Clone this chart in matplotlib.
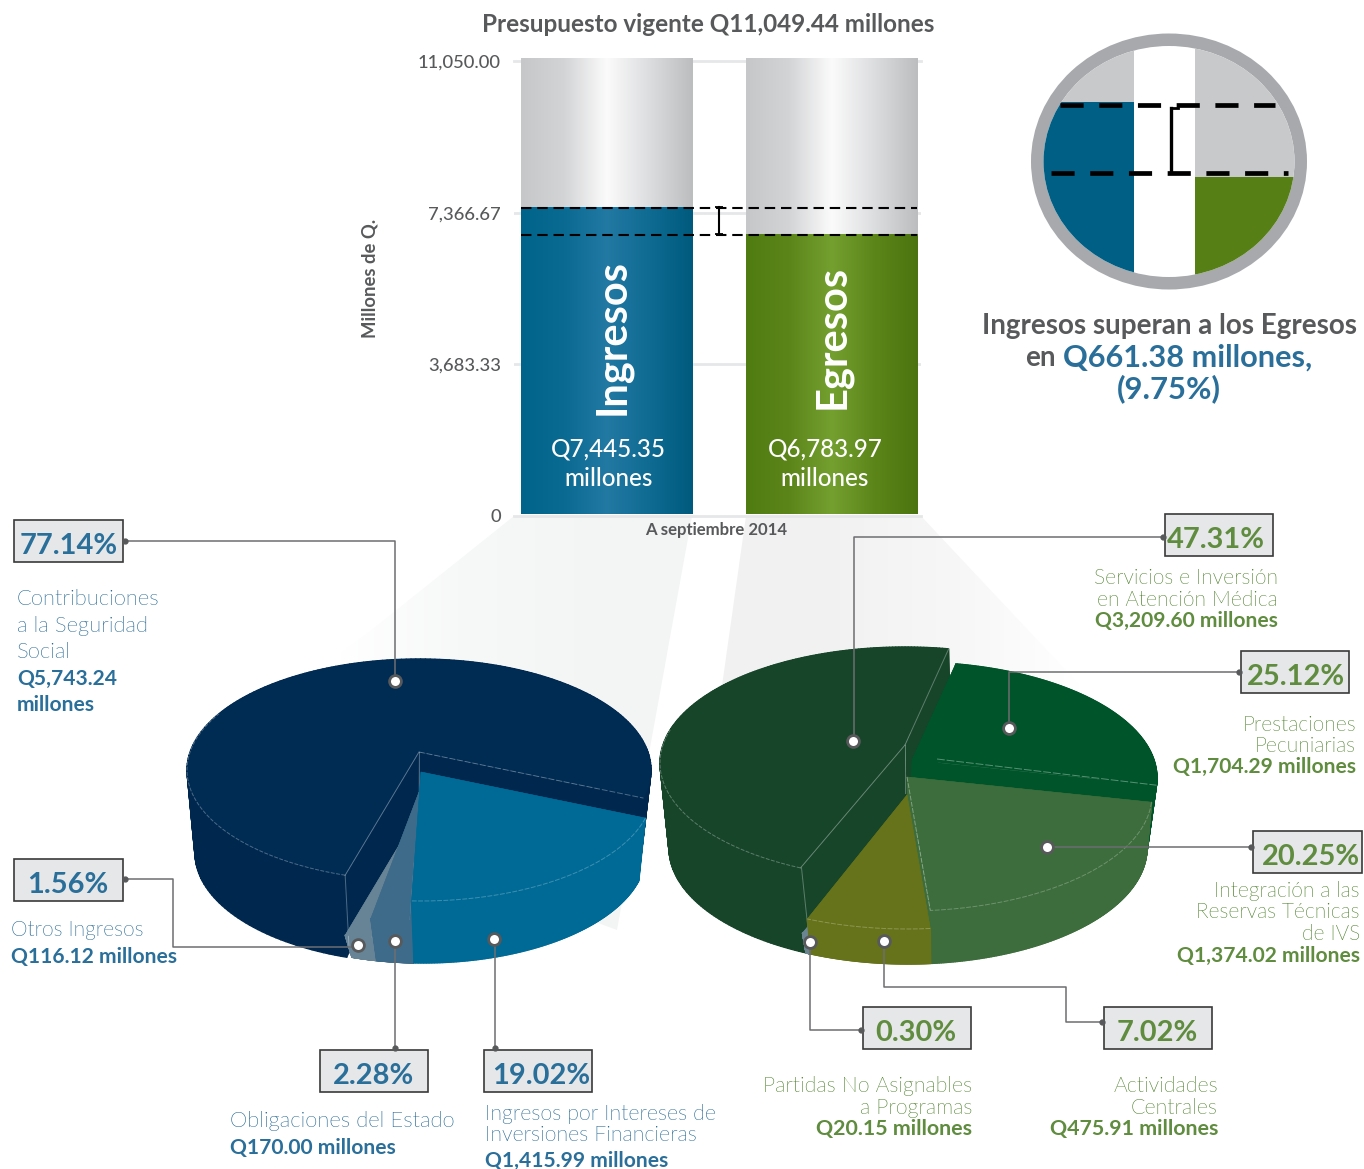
import numpy as np
import matplotlib
matplotlib.use('Agg')
import matplotlib.pyplot as plt
from matplotlib import font_manager as fm
from matplotlib.collections import PolyCollection
from matplotlib.colors import LinearSegmentedColormap
from matplotlib.patches import Polygon, Rectangle, Ellipse

plt.rcParams['font.family'] = ['Lato', 'DejaVu Sans']

# datos
budget = 11049.44
bar_names = ['Ingresos', 'Egresos']
bar_values = [7445.35, 6783.97]
y_ticks = [0, 3683.33, 7366.67, 11050.00]

ing_names = ['Ingresos por Intereses de\nInversiones Financieras', 'Obligaciones del Estado',
             'Otros Ingresos', 'Contribuciones\na la Seguridad\nSocial']
ing_pct = [19.02, 2.28, 1.56, 77.14]
ing_amounts = ['Q1,415.99 millones', 'Q170.00 millones', 'Q116.12 millones', 'Q5,743.24\nmillones']

egr_names = ['Prestaciones\nPecuniarias', 'Integración a las\nReservas Técnicas\nde IVS',
             'Actividades\nCentrales', 'Partidas No Asignables\na Programas',
             'Servicios e Inversión\nen Atención Médica']
egr_pct = [25.12, 20.25, 7.02, 0.30, 47.31]
egr_amounts = ['Q1,704.29 millones', 'Q1,374.02 millones', 'Q475.91 millones', 'Q20.15 millones',
               'Q3,209.60 millones']

W, H = 1364, 1169
GREY = '#58595b'
BLUE = '#2a6f9a'
GREEN = '#5f8c3e'
# la fuente Light sale muy palida, se compensa con un tono mas oscuro
LIGHT_COLOR = {BLUE: '#135c8c', GREEN: '#447a1f'}

# Lato Light si existe; "light" a secas cae en Hairline
light_file = None
for f in fm.fontManager.ttflist:
    if f.name == 'Lato' and 'light' in f.fname.lower() and 'italic' not in f.fname.lower() and 'hair' not in f.fname.lower():
        light_file = f.fname
        break

fig = plt.figure(figsize=(W / 100, H / 100), dpi=100)
ax = fig.add_axes([0, 0, 1, 1])
ax.set_xlim(0, W)
ax.set_ylim(H, 0)
ax.axis('off')


def px_axes(x0, y0, x1, y1):
    a = fig.add_axes([x0 / W, 1 - y1 / H, (x1 - x0) / W, (y1 - y0) / H])
    a.patch.set_alpha(0)
    for s in a.spines.values():
        s.set_visible(False)
    return a


def txt(x, y, s, px, color=GREY, weight='normal', ha='left', **kw):
    if weight == 'light':
        if light_file:
            fp = fm.FontProperties(fname=light_file, size=px * 0.72)
        else:
            fp = fm.FontProperties(family='Lato', size=px * 0.72)
        return ax.text(x, y, s, fontproperties=fp, color=LIGHT_COLOR[color], ha=ha, va='center', **kw)
    return ax.text(x, y, s, fontsize=px * 0.72, color=color, fontweight=weight, ha=ha, va='center', **kw)


def gradient(a, colors, extent, clip, z):
    cmap = LinearSegmentedColormap.from_list('g', colors)
    g = np.linspace(0, 1, 256).reshape(1, -1)
    im = a.imshow(g, cmap=cmap, extent=extent, aspect='auto', zorder=z)
    im.set_clip_path(clip)
    return im


# embudos grises de fondo
f1 = Polygon([(514, 516), (692, 516), (617, 930), (186, 770), (369, 632)], closed=True, fc='none', ec='none')
ax.add_patch(f1)
gradient(ax, ['#ffffff', '#f7f8f8', '#f4f5f5', '#f3f4f4'], (340, 692, 930, 514), f1, 1)
f2 = Polygon([(746, 516), (921, 516), (1150, 760), (720, 700)], closed=True, fc='none', ec='none')
ax.add_patch(f2)
gradient(ax, ['#f1f1f2', '#f2f2f3', '#f7f7f7', '#ffffff'], (720, 1080, 760, 514), f2, 1)
ax.set_xlim(0, W)
ax.set_ylim(H, 0)

# barras
ax_grid = px_axes(514, 61, 921, 516)
ax_grid.set_xlim(0, 1)
ax_grid.set_ylim(0, 11050)
ax_grid.set_xticks([])
ax_grid.set_yticks(y_ticks)
ax_grid.set_yticklabels([f'{t:,.2f}' if t else '0' for t in y_ticks], fontsize=13.2, color=GREY, fontweight='medium')
ax_grid.tick_params(axis='y', length=0, pad=9.5)
ax_grid.grid(axis='y', color='#e6e7e8', lw=2)
ax_grid.set_axisbelow(True)
ax_grid.yaxis.get_major_ticks()[0].gridline.set_clip_on(False)
ax_grid.yaxis.get_major_ticks()[-1].gridline.set_clip_on(False)

ax_bar = px_axes(516, 58, 920, 514)
ax_bar.set_xlim(-0.402, 1.393)
ax_bar.set_ylim(0, budget)
ax_bar.set_xticks([])
ax_bar.set_yticks([])
bar_w = 0.76
pos = np.arange(len(bar_names))
back = ax_bar.bar(pos, [budget, budget], width=bar_w, color='#d5d6d8', zorder=2)
front = ax_bar.bar(pos, bar_values, width=bar_w, color=['#00648a', '#5c8519'], zorder=3)
grey_grad = ['#c6c7c9', '#d3d4d6', '#fbfbfb', '#dcdddf', '#bcbdbf']
blue_grad = ['#00648a', '#0a6a92', '#2279a3', '#0f6b92', '#005a7e']
green_grad = ['#4f7c12', '#5c8519', '#74a030', '#5c8519', '#4b7410']
for i, x in enumerate(pos):
    ext = (x - bar_w / 2, x + bar_w / 2, 0, budget)
    gradient(ax_bar, grey_grad, ext, back[i], 2.5)
    gradient(ax_bar, blue_grad if i == 0 else green_grad, (ext[0], ext[1], 0, bar_values[i]), front[i], 3.5)
ax_bar.set_xlim(-0.402, 1.393)
ax_bar.set_ylim(0, budget)
for v in bar_values:
    ax_bar.plot([-bar_w / 2, 1 + bar_w / 2], [v - 20, v - 20], color='black', lw=1.5, dashes=(5, 2.8), zorder=5)
ax_bar.plot([0.5, 0.5], bar_values, color='black', lw=1.5, zorder=5, marker='_', ms=6, mew=1.3)
ax_bar.text(0.025, 4290, bar_names[0], rotation=90, color='white', fontsize=30, fontweight='bold', ha='center', va='center', zorder=6)
ax_bar.text(1.005, 4300, bar_names[1], rotation=90, color='white', fontsize=30, fontweight='bold', ha='center', va='center', zorder=6)
ax_bar.text(0.01, 1215, f'Q{bar_values[0]:,.2f}\nmillones', color='white', fontsize=17.4, fontweight='medium', ha='center', va='center', linespacing=1.35, zorder=6)
ax_bar.text(0.97, 1215, f'Q{bar_values[1]:,.2f}\nmillones', color='white', fontsize=17.4, fontweight='medium', ha='center', va='center', linespacing=1.35, zorder=6)

txt(708, 25, f'Presupuesto vigente Q{budget:,.2f} millones', 24.3, weight='bold', ha='center')
txt(716, 530, 'A septiembre 2014', 16.8, weight='bold', ha='center')
txt(370, 278, 'Millones de Q.', 18.5, weight='bold', ha='center', rotation=90)


# pasteles 3D: angulos desde los porcentajes, con perspectiva simple
def rim(phi, e):
    cx, cy, rx, ry, off = e
    u, v = np.cos(np.radians(phi)), np.sin(np.radians(phi))
    den = 1 - off / ry * v
    d = rx * np.sqrt(1 - (off / ry) ** 2)
    return cx + d * u / den, cy + (ry * v - off) / den


def draw_slice(a0, a1, top, bot, dtop, dbot, c_top, c_wall, z):
    ph = np.linspace(a0, a1, 200)
    tx, ty = rim(ph, top)
    bx, by = rim(ph, bot)
    tx, ty = tx + dtop[0], ty + dtop[1]
    bx, by = bx + dbot[0], by + dbot[1]
    apt = (top[0] + dtop[0], top[1] - top[4] + dtop[1])
    apb = (bot[0] + dbot[0], bot[1] - bot[4] + dbot[1])
    quads = [[(tx[i], ty[i]), (tx[i + 1], ty[i + 1]), (bx[i + 1], by[i + 1]), (bx[i], by[i])] for i in range(len(ph) - 1)]
    ax.add_collection(PolyCollection(quads, facecolors=c_wall, edgecolors=c_wall, linewidths=1.0, zorder=z))
    for i in (0, -1):
        ax.add_patch(Polygon([apt, (tx[i], ty[i]), (bx[i], by[i]), apb], fc=c_wall, ec=c_wall, lw=0.3, zorder=z))
    ax.add_patch(Polygon(np.r_[[apt], np.c_[tx, ty]], fc=c_top, ec=c_top, lw=0.3, zorder=z + 0.1))
    return apt, tx, ty, bx, by


def pct_angles(pct, start):
    edges = start + np.r_[0, np.cumsum(pct)] * 3.6
    return edges[:-1], edges[1:]


LINE = dict(color='white', alpha=0.3, lw=0.7)

# ingresos
top_i = (419, 770, 232, 111, 18)
bot_i = (418, 853, 223, 110, 18)
a0, a1 = pct_angles(ing_pct, 23.5)
ing_top = ['#006a96', '#3f6b8a', '#678396', '#002c54']
ing_wall = ['#006a96', '#3f6b8a', '#678396', '#00284f']
ing_dtop = [(2, 20), (0, 40), (0, 60), (0, 0)]
ing_dbot = [(5, 0), (5, 0), (5, 0), (0, 0)]
res = {}
for i in [3, 2, 1, 0]:
    res[i] = draw_slice(a0[i], a1[i], top_i, bot_i, ing_dtop[i], ing_dbot[i], ing_top[i], ing_wall[i], 3 + (3 - i))
apt, tx, ty, bx, by = res[3]
ax.plot([apt[0], tx[0]], [apt[1], ty[0]], zorder=4, **LINE)
ax.plot([tx[0], bx[0] + 2], [ty[0], by[0] - 12], zorder=4, **LINE)
ax.plot([apt[0], apt[0]], [apt[1], apt[1] + 45], zorder=4, **LINE)
ax.plot([apt[0], tx[-1]], [apt[1], ty[-1]], zorder=4, dashes=(6, 2), **LINE)
ax.plot(tx[:70], ty[:70], zorder=4, dashes=(4, 1.5), **LINE)
apt, tx, ty, bx, by = res[0]
ax.plot(tx, ty, zorder=8, dashes=(5, 1.5), color='white', alpha=0.25, lw=0.7)

# egresos
top_e = (907, 763, 245, 116, 18)
bot_e = (908, 848, 239, 116, 18)
a0, a1 = pct_angles(egr_pct, -78)
egr_top = ['#00542a', '#3d6d3c', '#66731a', '#6a8490', '#17452a']
egr_dtop = [(5, 15), (0, 32), (0, 50), (0, 65), (-2, 0)]
res = {}
for i, z in zip([4, 0, 1, 3, 2], [3, 4, 5, 6, 7]):
    res[i] = draw_slice(a0[i], a1[i], top_e, bot_e, egr_dtop[i], (0, 0), egr_top[i], egr_top[i], z)
apt, tx, ty, bx, by = res[4]
ax.plot([apt[0], tx[0]], [apt[1], ty[0]], zorder=3.5, **LINE)
ax.plot([apt[0], tx[-1]], [apt[1], ty[-1]], zorder=3.5, **LINE)
ax.plot([tx[0] + 1, bx[0] + 3], [ty[0], by[0] - 14], zorder=3.5, **LINE)
ax.plot([apt[0], apt[0]], [apt[1], apt[1] + 48], zorder=3.5, **LINE)
ax.plot(tx[:90], ty[:90], zorder=3.5, dashes=(4, 1.5), **LINE)
apt, tx, ty, bx, by = res[0]
ax.plot([apt[0] + 25, tx[-1]], [apt[1] - 1, ty[-1]], zorder=7.5, dashes=(8, 2), color='white', alpha=0.35, lw=0.7)
apt, tx, ty, bx, by = res[1]
ax.plot(tx, ty, zorder=8, dashes=(5, 1.5), color='white', alpha=0.25, lw=0.7)
ax.plot([apt[0], tx[-1]], [apt[1], ty[-1]], zorder=8, dashes=(5, 1.5), color='white', alpha=0.35, lw=0.7)
apt, tx, ty, bx, by = res[2]
ax.plot(tx, ty, zorder=8, dashes=(5, 1.5), color='white', alpha=0.25, lw=0.7)


# etiquetas con caja y conector
def label(box, tcx, pct, color, path, marker):
    ax.add_patch(Rectangle((box[0], box[1]), box[2] - box[0], box[3] - box[1], fc='#e6e7e8', ec='#3a3a3a', lw=1.2, zorder=10))
    txt(tcx, (box[1] + box[3]) / 2 + 5, f'{pct:.2f}%', 29, color=color, weight='bold', ha='center', zorder=11)
    xs, ys = zip(*path)
    ax.plot(xs, ys, color='#6d6e71', lw=1.1, zorder=9)
    ax.plot(xs[0], ys[0], 'o', color='#58595b', ms=3.5, zorder=11)
    ax.plot(*marker, 'o', mfc='white', mec='#58595b', mew=2, ms=8.5, zorder=12)


def block(x, y, names, amount, color, ha, name_px, step, bold_px=None, bold_step=None):
    lines = names.split('\n')
    for i, l in enumerate(lines):
        txt(x, y + 1 + i * step, l, name_px, color=color, weight='light', ha=ha)
    yy = y + 1 + (len(lines) - 1) * step
    for l in amount.split('\n'):
        yy += bold_step or step
        txt(x, yy, l, bold_px or name_px, color=color, weight='bold', ha=ha)


label((14, 520, 123, 562), 69, ing_pct[3], BLUE, [(125, 541), (395, 541), (395, 681)], (395, 681))
block(17, 598, ing_names[3], ing_amounts[3], BLUE, 'left', 22, 26.5, bold_px=21)
label((14, 859, 123, 901), 68, ing_pct[2], BLUE, [(125, 879), (173, 879), (173, 947), (358, 947)], (358, 945))
block(11, 929, ing_names[2], ing_amounts[2], BLUE, 'left', 21, 27)
label((320, 1050, 428, 1092), 374, ing_pct[1], BLUE, [(395, 1048), (395, 941)], (395, 941))
block(230, 1120, ing_names[1], ing_amounts[1], BLUE, 'left', 22, 27, bold_px=21)
label((484, 1050, 592, 1092), 541, ing_pct[0], BLUE, [(495, 1048), (495, 939)], (494, 939))
block(485, 1113, ing_names[0], ing_amounts[0], BLUE, 'left', 21.4, 21, bold_px=21, bold_step=26)

label((1165, 514, 1273, 556), 1216, egr_pct[4], GREEN, [(1163, 537), (854, 537), (854, 741)], (853, 741))
block(1278, 577, egr_names[4], egr_amounts[4], GREEN, 'right', 21, 21.5)
label((1241, 651, 1349, 693), 1296, egr_pct[0], GREEN, [(1239, 672), (1009, 672), (1009, 728)], (1009, 728))
block(1356, 724, egr_names[0], egr_amounts[0], GREEN, 'right', 21, 21)
label((1253, 831, 1362, 873), 1311, egr_pct[1], GREEN, [(1251, 847), (1047, 847)], (1047, 847))
block(1360, 890, egr_names[1], egr_amounts[1], GREEN, 'right', 21, 21.5)
label((863, 1007, 971, 1049), 916, egr_pct[3], GREEN, [(861, 1030), (810, 1030), (810, 942)], (810, 942))
block(972, 1085, egr_names[3], egr_amounts[3], GREEN, 'right', 21.4, 21.5)
label((1104, 1007, 1212, 1049), 1157, egr_pct[2], GREEN, [(1102, 1022), (1066, 1022), (1066, 987), (884, 987), (884, 941)], (884, 941))
block(1218, 1085, egr_names[2], egr_amounts[2], GREEN, 'right', 21.4, 21.5)

# lupa
ax.add_patch(Ellipse((1169, 161.5), 276, 256, fc='#a7a9ac', ec='none', zorder=3))
lens = Ellipse((1169, 161.5), 251, 231, fc='white', ec='none', zorder=3.1)
ax.add_patch(lens)
for (x0, y0, x1, y1, c) in [(1040, 40, 1134, 102, '#c8c9cb'), (1040, 102, 1134, 285, '#005f85'),
                            (1195, 40, 1300, 177, '#c8c9cb'), (1195, 177, 1300, 285, '#567f16')]:
    r = Rectangle((x0, y0), x1 - x0, y1 - y0, fc=c, ec='none', zorder=3.2)
    ax.add_patch(r)
    r.set_clip_path(lens)
ax.plot([1060, 1275], [105, 105], color='black', lw=3.4, dashes=(4.9, 3.3), zorder=4)
ax.plot([1051, 1288], [173, 173], color='black', lw=3.4, dashes=(4.9, 3.3), zorder=4)
ax.plot([1171, 1171], [108, 172], color='black', lw=2.4, zorder=4)
ax.plot([1171, 1178], [108, 108], color='black', lw=2, zorder=4)

txt(1169, 326, 'Ingresos superan a los Egresos', 27.8, weight='bold', ha='center')
txt(1025, 358, 'en', 27.8, weight='bold')
txt(1063, 358, 'Q661.38 millones,', 30.8, color=BLUE, weight='bold')
txt(1169, 389, '(9.75%)', 31, color=BLUE, weight='bold', ha='center')

fig.savefig('out.png', dpi=100)
